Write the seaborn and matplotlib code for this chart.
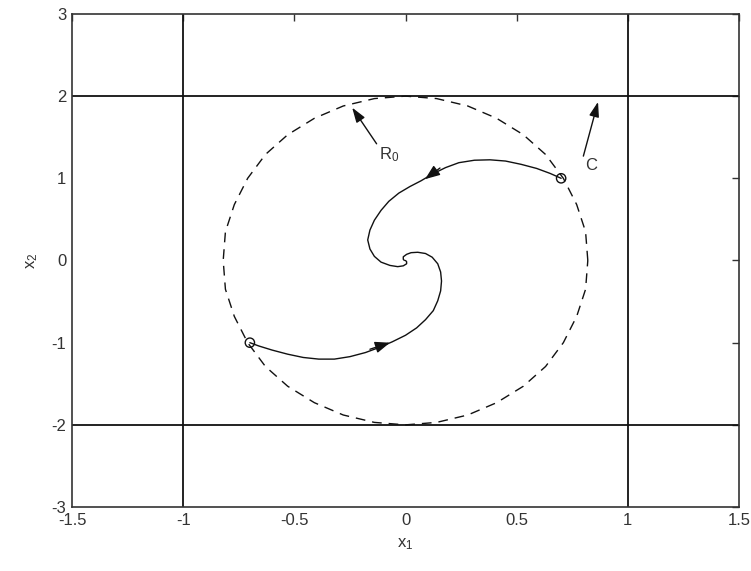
import numpy as np
import pandas as pd
import matplotlib
matplotlib.use('Agg')
import matplotlib.pyplot as plt
import seaborn as sns

# constraint box (solid lines)
x_bounds = [-1.0, 1.0]
y_bounds = [-2.0, 2.0]

# region R0 boundary (dashed)
ell_x = [0.82, 0.81, 0.77, 0.71, 0.63, 0.53, 0.41, 0.28, 0.14, 0.00,
         -0.14, -0.28, -0.41, -0.53, -0.63, -0.71, -0.77, -0.81, -0.82,
         -0.81, -0.77, -0.71, -0.63, -0.53, -0.41, -0.28, -0.14, 0.00,
         0.14, 0.28, 0.41, 0.53, 0.63, 0.71, 0.77, 0.81, 0.82]
ell_y = [0.00, 0.35, 0.68, 1.00, 1.29, 1.53, 1.73, 1.88, 1.97, 2.00,
         1.97, 1.88, 1.73, 1.53, 1.29, 1.00, 0.68, 0.35, 0.00,
         -0.35, -0.68, -1.00, -1.29, -1.53, -1.73, -1.88, -1.97, -2.00,
         -1.97, -1.88, -1.73, -1.53, -1.29, -1.00, -0.68, -0.35, 0.00]

# trajectory starting at (0.7, 1)
traj1_x = [0.70, 0.65, 0.59, 0.52, 0.45, 0.38, 0.31, 0.24, 0.18, 0.12,
           0.07, 0.02, -0.03, -0.075, -0.11, -0.14, -0.16, -0.17, -0.16,
           -0.14, -0.11, -0.07, -0.035, -0.01, 0.005, 0.005, 0.00]
traj1_y = [1.00, 1.06, 1.12, 1.17, 1.21, 1.225, 1.22, 1.19, 1.13, 1.05,
           0.97, 0.90, 0.82, 0.72, 0.61, 0.49, 0.37, 0.25, 0.14,
           0.05, -0.02, -0.06, -0.075, -0.065, -0.04, -0.015, 0.00]

# trajectory starting at (-0.7, -1)
traj2_x = [-0.70, -0.66, -0.60, -0.53, -0.46, -0.39, -0.32, -0.25, -0.18,
           -0.12, -0.06, 0.00, 0.05, 0.09, 0.125, 0.145, 0.158, 0.162,
           0.158, 0.145, 0.12, 0.09, 0.055, 0.025, 0.005, -0.01, -0.01,
           -0.005]
traj2_y = [-1.00, -1.04, -1.09, -1.14, -1.18, -1.20, -1.20, -1.17, -1.12,
           -1.06, -0.99, -0.91, -0.82, -0.72, -0.61, -0.49, -0.37, -0.25,
           -0.14, -0.04, 0.04, 0.085, 0.10, 0.095, 0.075, 0.045, 0.015,
           0.00]

start_x = [0.70, -0.70]
start_y = [1.00, -1.00]

# direction arrows on the trajectories (tail -> head)
arrow_tail = [(0.155, 1.125), (-0.16, -1.08)]
arrow_head = [(0.088, 0.99), (-0.07, -1.00)]

# labels with pointer arrows: (text, text pos, arrow tip)
labels = [('$\\mathregular{R_0}$', (-0.13, 1.42), (-0.24, 1.86)),
          ('C', (0.80, 1.27), (0.866, 1.93))]

sns.set_style('white')
plt.rcParams['font.family'] = ['Liberation Sans', 'DejaVu Sans']
plt.rcParams['mathtext.fontset'] = 'custom'
plt.rcParams['mathtext.rm'] = 'Liberation Sans'
plt.rcParams['mathtext.it'] = 'Liberation Sans'
plt.rcParams['axes.unicode_minus'] = False

txt = '#333333'
fig = plt.figure(figsize=(7.51, 5.71), dpi=100)
ax = fig.add_axes([0.0959, 0.112, 0.8881, 0.8636])

for xb in x_bounds:
    ax.axvline(xb, color='#111111', lw=1.3)
for yb in y_bounds:
    ax.axhline(yb, color='#111111', lw=1.3)

ell = pd.DataFrame({'x': ell_x, 'y': ell_y})
sns.lineplot(data=ell, x='x', y='y', sort=False, estimator=None, ax=ax,
             color='#111111', lw=1.0, linestyle=(0, (7, 5)))

for tx, ty in [(traj1_x, traj1_y), (traj2_x, traj2_y)]:
    df = pd.DataFrame({'x': tx, 'y': ty})
    sns.lineplot(data=df, x='x', y='y', sort=False, estimator=None, ax=ax,
                 color='#111111', lw=1.0)

sns.scatterplot(x=start_x, y=start_y, ax=ax, marker='o', s=45,
                facecolor='none', edgecolor='#111111', linewidth=1.0,
                zorder=5)

for tail, head in zip(arrow_tail, arrow_head):
    ax.annotate('', xy=head, xytext=tail,
                arrowprops=dict(arrowstyle='-|>,head_length=0.9,head_width=0.35',
                                color='#111111', lw=1.0, shrinkA=0, shrinkB=0))

for s, pos, tip in labels:
    ax.annotate('', xy=tip, xytext=pos,
                arrowprops=dict(arrowstyle='-|>,head_length=0.9,head_width=0.3',
                                color='#111111', lw=1.0, shrinkA=0, shrinkB=0))
    ax.text(pos[0] + 0.01, pos[1] - 0.02, s, color=txt, fontsize=12,
            ha='left', va='top')

ax.set_xlim(-1.5, 1.5)
ax.set_ylim(-3, 3)
ax.set_xticks([-1.5, -1, -0.5, 0, 0.5, 1, 1.5])
ax.set_xticklabels(['-1.5', '-1', '-0.5', '0', '0.5', '1', '1.5'])
ax.set_yticks([-3, -2, -1, 0, 1, 2, 3])
ax.tick_params(direction='in', length=5, width=1, colors='#333333',
               labelsize=12, top=True, right=True, pad=4)
for sp in ax.spines.values():
    sp.set_color('#333333')
    sp.set_linewidth(1.2)
ax.set_xlabel('$\\mathregular{x_1}$', color=txt, fontsize=12, labelpad=6)
ax.set_ylabel('$\\mathregular{x_2}$', color=txt, fontsize=12, labelpad=8)

fig.savefig('out.png', dpi=100)
